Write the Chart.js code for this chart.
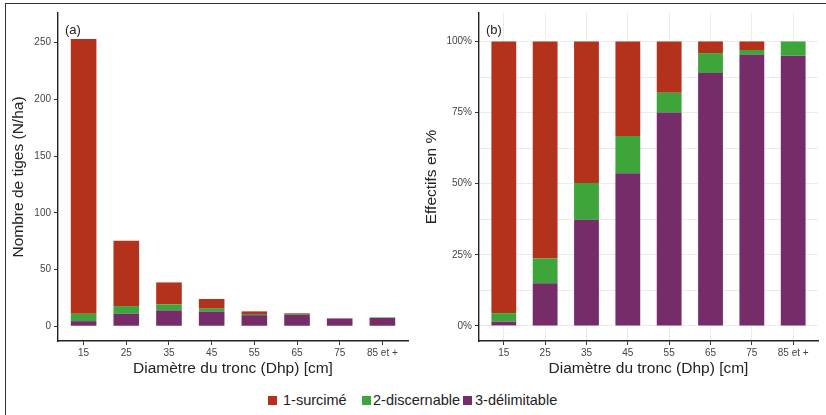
<!DOCTYPE html>
<html lang="fr">
<head>
<meta charset="UTF-8">
<title>Nombre de tiges et effectifs par classe de diamètre</title>
<script src="https://cdn.jsdelivr.net/npm/chart.js"></script>
<style>
    body { margin: 0; background: #fff; font-family: "Liberation Sans", Arial, sans-serif; }
    #page { position: relative; width: 826px; height: 415px; overflow: hidden; }
    #frame { position: absolute; left: 5px; top: 3px; right: 0; bottom: -5px;
             border-left: 1.5px solid #333; border-top: 1.5px solid #333; }
    #boxA { position: absolute; left: 0; top: 0; width: 412px; height: 385px; }
    #boxB { position: absolute; left: 412px; top: 0; width: 414px; height: 385px; }
    .sq { position: absolute; top: 396px; width: 9px; height: 9px; }
    .lab { position: absolute; top: 392px; font-size: 14.5px; line-height: 17px; color: #222; white-space: nowrap; }
</style>
</head>
<body>
<div id="page">
    <div id="frame"></div>
    <div id="boxA"><canvas id="chartA" width="412" height="385"></canvas></div>
    <div id="boxB"><canvas id="chartB" width="414" height="385"></canvas></div>
    <div id="legend"></div>
</div>
<script>
// classes de diamètre
const classes = ['15', '25', '35', '45', '55', '65', '75', '85 et +'];

// (a) nombre de tiges par ha
const delimitableN = [4.5, 11, 14, 13, 9.8, 10, 6.7, 7.3];
const discernableN = [6.5, 6.8, 5.3, 3, 1, 0.8, 0.1, 0.5];
const surcimeN = [242, 57.5, 19.3, 8, 2.3, 0.6, 0.3, 0];

// (b) effectifs en %
const delimitablePct = [1.5, 15, 37.3, 53.7, 75, 88.9, 95.3, 95];
const discernablePct = [3, 8.7, 12.9, 13.1, 7, 7, 1.7, 5];
const surcimePct = [95.5, 76.3, 49.8, 33.2, 18, 4.1, 3, 0];

const yTicksA = [0, 50, 100, 150, 200, 250];
const yTicksB = [0, 12.5, 25, 37.5, 50, 62.5, 75, 87.5, 100];

const names = ['1-surcimé', '2-discernable', '3-délimitable'];
const colors = ['#b4321b', '#3ea53a', '#772c6a'];

const font = '"Liberation Sans", Arial, sans-serif';
Chart.defaults.font.family = font;
Chart.defaults.animation = false;

function points(arr) {
    return arr.map((v, i) => ({ x: i + 1, y: v }));
}

function datasets(del, dis, sur) {
    // empilement : 3 en bas, 2 au milieu, 1 en haut
    return [
        { label: names[2], data: points(del), backgroundColor: colors[2] },
        { label: names[1], data: points(dis), backgroundColor: colors[1] },
        { label: names[0], data: points(sur), backgroundColor: colors[0] }
    ].map(d => Object.assign(d, { barPercentage: 1, categoryPercentage: 0.6, borderWidth: 0 }));
}

function tagPlugin(txt) {
    return {
        id: 'tag',
        afterDraw(chart) {
            const c = chart.ctx;
            c.save();
            c.font = '13px ' + font;
            c.fillStyle = '#222';
            c.textBaseline = 'middle';
            c.fillText(txt, chart.chartArea.left + 7, 30);
            c.restore();
        }
    };
}

function xScale(showGrid) {
    return {
        type: 'linear',
        min: 0.4,
        max: 8.6,
        offset: false,
        stacked: true,
        afterBuildTicks: s => { s.ticks = classes.map((c, i) => ({ value: i + 1 })); },
        afterFit: s => { s.height = 44; },
        ticks: {
            callback: v => classes[v - 1],
            color: '#444',
            font: { size: 10 },
            padding: 2,
            maxRotation: 0,
            autoSkip: false
        },
        grid: {
            offset: false,
            drawOnChartArea: showGrid,
            color: '#ebebeb',
            lineWidth: 1,
            tickColor: '#333',
            tickLength: 4
        },
        border: { display: true, color: '#222', width: 1.4 },
        title: {
            display: true,
            text: 'Diamètre du tronc (Dhp) [cm]',
            color: '#222',
            font: { size: 15.5 },
            padding: { top: 0, bottom: 6.7 }
        }
    };
}

function yScale(opts) {
    return {
        min: opts.min,
        max: opts.max,
        stacked: true,
        afterBuildTicks: s => { s.ticks = opts.ticks.map(v => ({ value: v })); },
        afterFit: s => { s.width = opts.width; },
        ticks: {
            callback: opts.label,
            color: '#444',
            font: { size: 10 },
            padding: 3,
            autoSkip: false
        },
        grid: {
            drawOnChartArea: opts.grid,
            color: '#ebebeb',
            lineWidth: 1,
            tickColor: ctx => (opts.label(ctx.tick.value) === '' ? 'rgba(0,0,0,0)' : '#333'),
            tickLength: 4
        },
        border: { display: true, color: '#222', width: 1.4 },
        title: {
            display: true,
            text: opts.title,
            color: '#222',
            font: { size: 15.5 },
            padding: { top: opts.titlePad, bottom: 0 }
        }
    };
}

new Chart(document.getElementById('chartA'), {
    type: 'bar',
    data: { datasets: datasets(delimitableN, discernableN, surcimeN) },
    options: {
        responsive: false,
        layout: { padding: { left: 8, right: 4, top: 13, bottom: 0 } },
        plugins: { legend: { display: false }, tooltip: { enabled: false } },
        scales: {
            x: xScale(false),
            y: yScale({
                min: -13, max: 276, ticks: yTicksA, width: 50, grid: false,
                label: v => String(v), title: 'Nombre de tiges (N/ha)', titlePad: 1.7
            })
        }
    },
    plugins: [tagPlugin('(a)')]
});

new Chart(document.getElementById('chartB'), {
    type: 'bar',
    data: { datasets: datasets(delimitablePct, discernablePct, surcimePct) },
    options: {
        responsive: false,
        layout: { padding: { left: 0, right: 8, top: 13, bottom: 0 } },
        plugins: { legend: { display: false }, tooltip: { enabled: false } },
        scales: {
            x: xScale(true),
            y: yScale({
                min: -5.3, max: 110, ticks: yTicksB, width: 67, grid: true,
                label: v => (v % 25 === 0 ? v + '%' : ''), title: 'Effectifs en %', titlePad: 10.7
            })
        }
    },
    plugins: [tagPlugin('(b)')]
});

// légende commune
const squareX = [268, 362, 463];
const textX = [283, 373, 475];
const legend = document.getElementById('legend');
names.forEach((n, i) => {
    const sq = document.createElement('div');
    sq.className = 'sq';
    sq.style.left = squareX[i] + 'px';
    sq.style.background = colors[i];
    legend.appendChild(sq);
    const lab = document.createElement('div');
    lab.className = 'lab';
    lab.style.left = textX[i] + 'px';
    lab.textContent = n;
    legend.appendChild(lab);
});
</script>
</body>
</html>
